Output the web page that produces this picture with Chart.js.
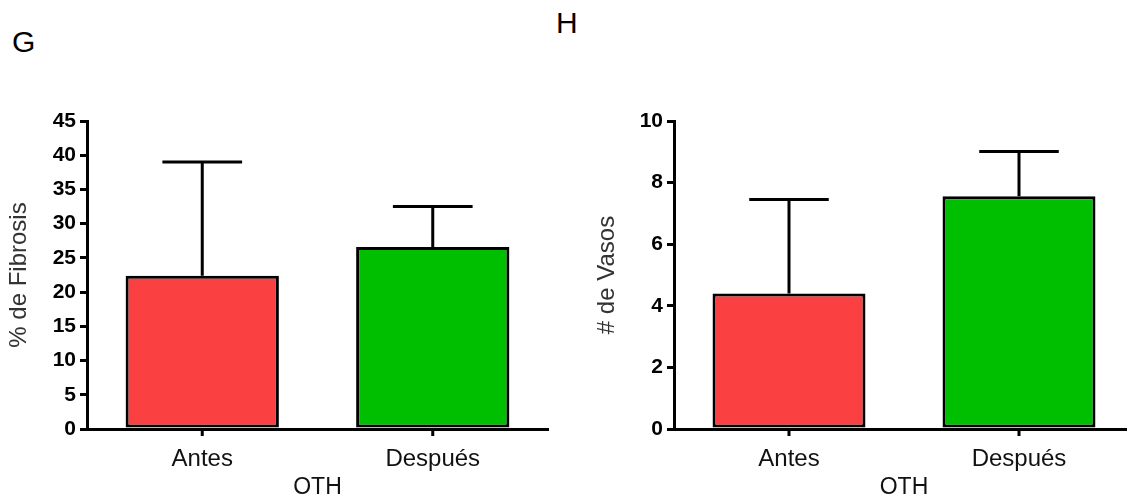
<!DOCTYPE html>
<html>
<head>
<meta charset="utf-8">
<script src="https://cdn.jsdelivr.net/npm/chart.js@4.4.0/dist/chart.umd.min.js"></script>
<style>
  html, body { margin: 0; padding: 0; background: #fff; overflow: hidden; }
  body { width: 1127px; height: 501px; position: relative; font-family: "Liberation Sans", Arial, sans-serif; }
  .panel { position: absolute; top: 0; width: 560px; height: 501px; }
  .letter { position: absolute; font-size: 30px; color: #000; line-height: 1; }
</style>
</head>
<body>
<div class="letter" style="left:12px; top:27px;">G</div>
<div class="letter" style="left:556px; top:8px;">H</div>
<div class="panel" style="left:0px;"><canvas id="chartFibrosis" width="560" height="501"></canvas></div>
<div class="panel" style="left:588px;"><canvas id="chartVasos" width="560" height="501"></canvas></div>
<script>
// ==================== DATOS ====================
const categories = ['Antes', 'Después'];
const groupLabel = 'OTH';

const fibrosisMean = [22.4, 26.6];
const fibrosisSD = [16.6, 5.9];
const fibrosisTicks = [0, 5, 10, 15, 20, 25, 30, 35, 40, 45];

const vasosMean = [4.4, 7.56];
const vasosSD = [3.05, 1.45];
const vasosTicks = [0, 2, 4, 6, 8, 10];

const barColors = ['#fa4040', '#00bf00'];

// ==================== BARRAS DE ERROR ====================
const errorBars = {
    id: 'errorBars',
    afterDatasetsDraw(chart, args, opts) {
        const ctx = chart.ctx;
        const meta = chart.getDatasetMeta(0);
        const y = chart.scales.y;
        const xTop = chart.scales.x.top;
        ctx.save();
        ctx.strokeStyle = '#000';
        ctx.lineWidth = 3;
        meta.data.forEach((bar, i) => {
            const top = y.getPixelForValue(opts.means[i] + opts.sd[i]);
            const half = bar.width * 0.26;
            ctx.beginPath();
            ctx.moveTo(bar.x, bar.y);
            ctx.lineTo(bar.x, top);
            ctx.moveTo(bar.x - half, top);
            ctx.lineTo(bar.x + half, top);
            // marca del eje x bajo cada barra
            ctx.moveTo(bar.x, xTop);
            ctx.lineTo(bar.x, xTop + 7);
            ctx.stroke();
        });
        ctx.restore();
    }
};

// ==================== GRÁFICOS ====================
function makeChart(id, means, sd, ticks, yTitle, areaLeft, padRight) {
    return new Chart(document.getElementById(id), {
        type: 'bar',
        data: {
            labels: categories,
            datasets: [{
                data: means,
                backgroundColor: barColors,
                borderColor: '#000',
                borderWidth: 3,
                borderSkipped: false,
                categoryPercentage: 1,
                barPercentage: 0.665
            }]
        },
        options: {
            responsive: false,
            animation: false,
            events: [],
            layout: { padding: { top: 121, right: padRight, bottom: 0, left: 0 } },
            plugins: {
                legend: { display: false },
                tooltip: { enabled: false },
                errorBars: { means: means, sd: sd }
            },
            scales: {
                x: {
                    grid: { display: false },
                    border: { display: true, color: '#000', width: 3 },
                    ticks: { color: '#111', padding: 8, font: { family: 'Liberation Sans', size: 24 } },
                    title: { display: true, text: groupLabel, color: '#111', padding: 0, font: { family: 'Liberation Sans', size: 23 } },
                    afterFit: s => { s.height = 72; }
                },
                y: {
                    min: ticks[0],
                    max: ticks[ticks.length - 1],
                    afterBuildTicks: s => { s.ticks = ticks.map(v => ({ value: v })); },
                    grid: { display: true, drawOnChartArea: false, drawTicks: true, tickLength: 7, color: '#000', lineWidth: 3 },
                    border: { display: true, color: '#000', width: 3 },
                    ticks: { color: '#000', padding: 4, font: { family: 'Liberation Sans', size: 21, weight: 'bold' } },
                    title: { display: true, text: yTitle, color: '#333', padding: { top: 5, bottom: 0 }, font: { family: 'Liberation Sans', size: 24 } },
                    afterFit: s => { s.width = areaLeft; }
                }
            }
        },
        plugins: [errorBars]
    });
}

makeChart('chartFibrosis', fibrosisMean, fibrosisSD, fibrosisTicks, '% de Fibrosis', 87, 12);
makeChart('chartVasos', vasosMean, vasosSD, vasosTicks, '# de Vasos', 86, 14);
</script>
</body>
</html>
